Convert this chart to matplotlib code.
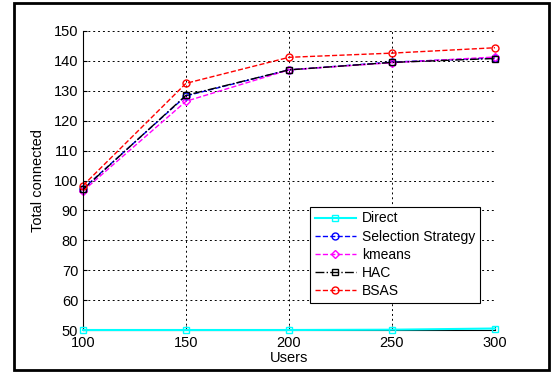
import matplotlib
matplotlib.use("Agg")
import matplotlib.pyplot as plt
from matplotlib.patches import Rectangle

plt.rcParams['font.family'] = ['Liberation Sans', 'DejaVu Sans']

users = [100, 150, 200, 250, 300]
direct = [50.0, 50.0, 50.0, 50.1, 50.5]
selection = [97.2, 128.3, 137.0, 139.6, 141.0]
kmeans = [96.5, 126.5, 137.0, 139.4, 141.3]
hac = [97.0, 128.5, 137.0, 139.5, 140.8]
bsas = [98.3, 132.5, 141.2, 142.6, 144.4]
yticks = [50, 60, 70, 80, 90, 100, 110, 120, 130, 140, 150]

W, H = 553, 374
fig = plt.figure(figsize=(W / 100, H / 100), dpi=100)
ax = fig.add_axes([83 / W, 1 - 330 / H, (495 - 83) / W, (330 - 31) / H])

ms = 5
ax.plot(users, direct, '-', color='cyan', lw=1.5, marker='s', ms=ms, mfc='none', mec='cyan', label='Direct', clip_on=False, zorder=5)
ax.plot(users, selection, '--', color='blue', lw=1, marker='o', ms=ms, mfc='none', mec='blue', label='Selection Strategy', clip_on=False)
ax.plot(users, kmeans, '--', color='magenta', lw=1, marker='D', ms=4, mfc='none', mec='magenta', label='kmeans', clip_on=False)
ax.plot(users, hac, '-.', color='black', lw=1, marker='s', ms=ms, mfc='none', mec='black', label='HAC', clip_on=False)
ax.plot(users, bsas, '--', color='red', lw=1, marker='o', ms=ms, mfc='none', mec='red', label='BSAS', clip_on=False)

ax.set_xlim(100, 300)
ax.set_ylim(50, 150)
ax.set_xticks(users)
ax.set_yticks(yticks)
ax.grid(True, linestyle=(0, (2, 3)), color='black', lw=0.7)
for s in ['top', 'right']:
    ax.spines[s].set_visible(False)
ax.tick_params(direction='in', labelsize=10.5, length=3)
ax.tick_params(axis='x', pad=4)
ax.set_xlabel('Users', fontsize=10.5, labelpad=1)
ax.set_ylabel('Total connected', fontsize=10.5, labelpad=6)

leg = ax.legend(loc='lower right', bbox_to_anchor=(480 / W, 1 - 303 / H), bbox_transform=fig.transFigure,
                fontsize=10, fancybox=False, edgecolor='black', framealpha=1, borderaxespad=0,
                handlelength=3.0, handletextpad=0.4, borderpad=0.35, labelspacing=0.3)
leg.get_frame().set_linewidth(0.8)

fig.patches.append(Rectangle((14 / W, 1 - 370 / H), (549 - 14) / W, (370 - 3) / H,
                             transform=fig.transFigure, fill=False, edgecolor='black', lw=2))

fig.savefig('out.png', dpi=100)
